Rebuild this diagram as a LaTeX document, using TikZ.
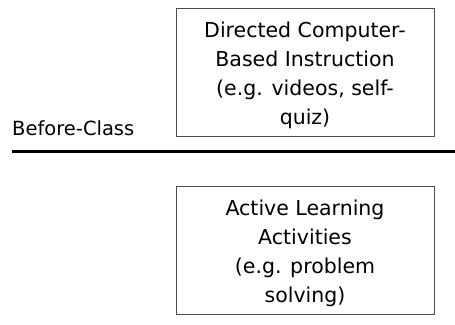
\documentclass[tikz,border=0pt]{standalone}
\usepackage{fontspec}
\setmainfont{DejaVu Sans}
\begin{document}
\begin{tikzpicture}[x=1pt,y=-1pt,
  boxnode/.style={draw=black!70, line width=0.8pt, minimum width=258pt, minimum height=128pt, inner sep=0pt},
  boxtext/.style={align=center, inner sep=0pt, font=\fontsize{20.5}{29}\selectfont},
  lbl/.style={anchor=base west, inner sep=0pt, font=\fontsize{19.5}{21}\selectfont}]
\useasboundingbox (0,0) rectangle (455,324);
\node[boxnode] (top) at (305,72) {};
\node[boxtext] (toptext) at ([yshift=-3.5pt]top.center) {Directed Computer-\\Based Instruction\\(e.g. videos, self-\\quiz)};
\node[boxnode] (bot) at (305,250) {};
\node[boxtext] (bottext) at ([yshift=-3pt]bot.center) {Active Learning\\Activities\\(e.g. problem\\solving)};
\node[lbl] (bc) at (12,135) {Before-Class};
\coordinate (l1) at (12,151);
\coordinate (l2) at (455,151);
\draw[line width=3pt] (l1) -- (l2);
\end{tikzpicture}
\end{document}
